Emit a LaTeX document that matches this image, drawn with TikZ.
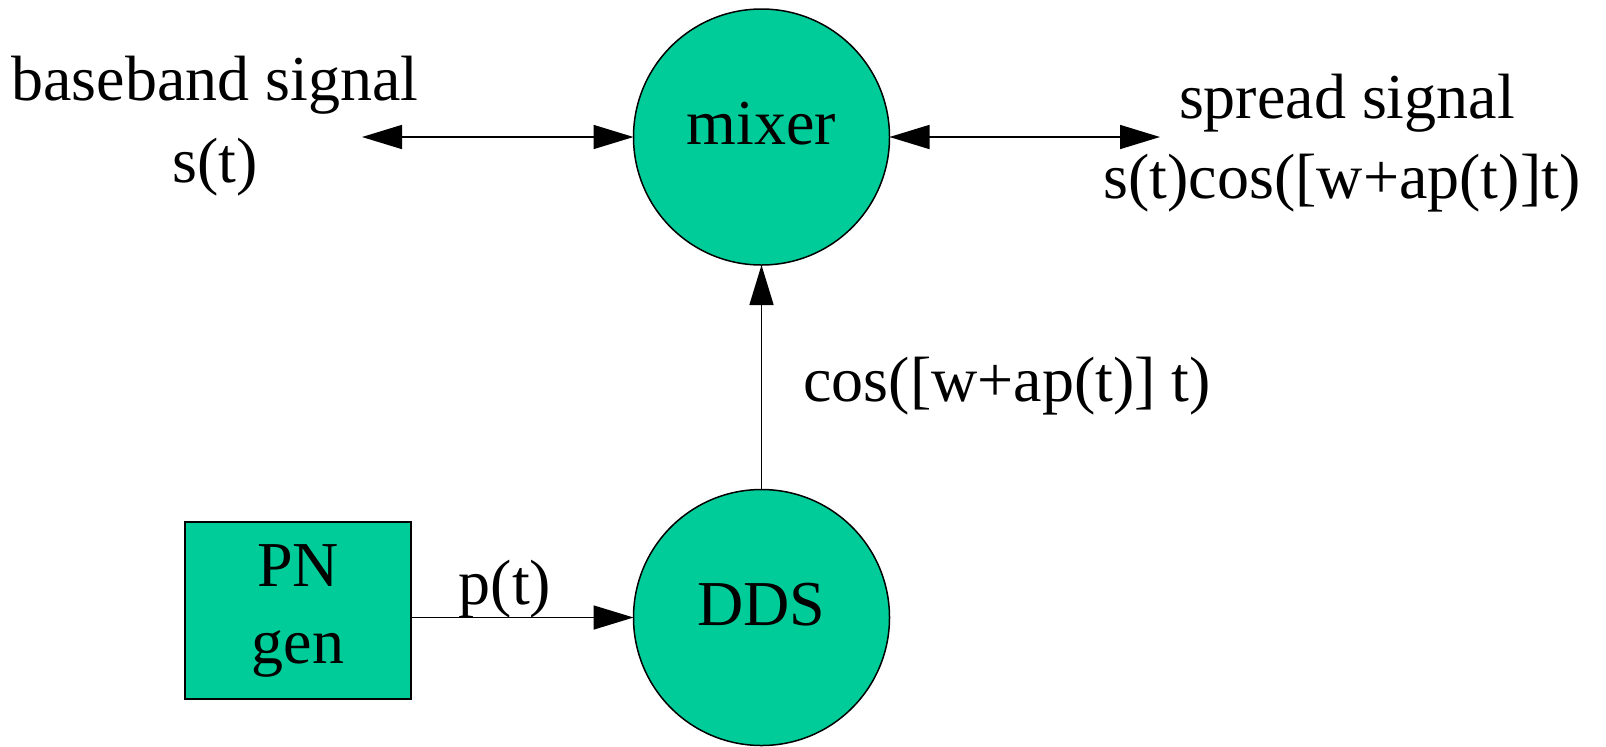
\documentclass[tikz,border=0pt]{standalone}
\usepackage{fontspec}
\setmainfont{Liberation Serif}
\usetikzlibrary{arrows.meta}
\definecolor{teal}{RGB}{0,204,153}
\begin{document}
\begin{tikzpicture}[x=0.5pt,y=-0.5pt,
  every node/.style={font=\fontsize{32}{38.5}\selectfont},
  ball/.style={circle,draw,line width=0.75pt,fill=teal,minimum size=128pt,inner sep=0pt,outer sep=0pt,text height=7.75pt,text depth=0pt},
  genbox/.style={rectangle,draw,line width=0.75pt,fill=teal,minimum width=113pt,minimum height=88.5pt,inner sep=0pt,outer sep=0pt,align=center},
  lbl/.style={anchor=base,inner sep=0pt},
  conn/.style={line width=0.8pt,-{Triangle[length=20pt,width=12pt]}},
  bconn/.style={line width=0.8pt,{Triangle[length=20pt,width=12pt]}-{Triangle[length=20pt,width=12pt]}}
]
\useasboundingbox (0,0) rectangle (1606,746);
\node[ball] (mixer) at (761.5,137) {mixer};
\node[ball] (dds) at (761.5,617.5) {DDS};
\node[genbox] (pn) at (298,610.5) {PN\\gen};
\coordinate (lend) at (362,137);
\coordinate (rend) at (1160,137);
\node[lbl] (bb1) at (215,100) {baseband signal};
\node[lbl] (bb2) at (215,182) {s(t)};
\node[lbl] (sp1) at (1347,118) {spread signal};
\node[lbl] (sp2) at (1342,198) {s(t)cos([w+ap(t)]t)};
\node[lbl,anchor=base west] (cosl) at (803,401) {cos([w+ap(t)] t)};
\node[lbl] (pl) at (505,604) {p(t)};
\draw[bconn] (lend) -- (mixer.west);
\draw[bconn] (mixer.east) -- (rend);
\draw[conn] (dds.north) -- (mixer.south);
\draw[conn] (pn.east |- dds.west) -- (dds.west);
\end{tikzpicture}
\end{document}
